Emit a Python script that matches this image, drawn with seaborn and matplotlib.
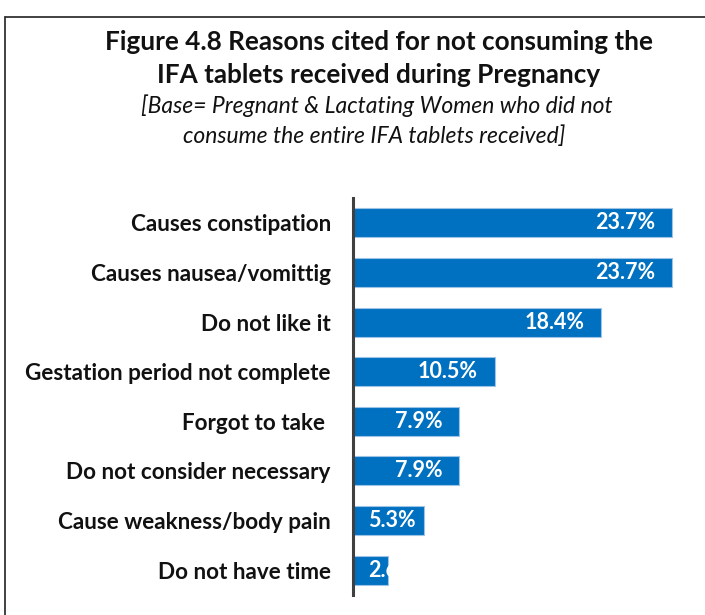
import matplotlib
matplotlib.use("Agg")
import matplotlib.pyplot as plt
import seaborn as sns
import pandas as pd

# data
reasons = [
    "Causes constipation",
    "Causes nausea/vomittig",
    "Do not like it",
    "Gestation period not complete",
    "Forgot to take ",
    "Do not consider necessary",
    "Cause weakness/body pain",
    "Do not have time",
]
percent = [23.7, 23.7, 18.4, 10.5, 7.9, 7.9, 5.3, 2.6]

title_lines = ["Figure 4.8 Reasons cited for not consuming the",
               "IFA tablets received during Pregnancy"]
subtitle_lines = ["[Base= Pregnant & Lactating Women who did not",
                  "consume the entire IFA tablets received]"]

sns.set_style("white")
plt.rcParams["font.family"] = ["Lato", "DejaVu Sans"]

df = pd.DataFrame({"reason": reasons, "pct": percent})

fig = plt.figure(figsize=(7.05, 6.15), dpi=100)
ax = fig.add_axes([353 / 705, 1 - 595 / 615, 337 / 705, 397 / 615])

sns.barplot(data=df, y="reason", x="pct", orient="h", color="#0070C0",
            saturation=1, width=0.585, edgecolor="#9DC3E6", linewidth=0.8, ax=ax)

ax.set_xlim(0, 25)
ax.set_ylim(7.5, -0.5)
ax.set_xlabel("")
ax.set_ylabel("")
ax.set_xticks([])
for s in ["top", "right", "bottom"]:
    ax.spines[s].set_visible(False)
ax.spines["left"].set_color("#404040")
ax.spines["left"].set_linewidth(2.2)
ax.tick_params(axis="y", length=0, pad=16)
for lab in ax.get_yticklabels():
    lab.set_fontweight("bold")
    lab.set_fontsize(16.2)
    lab.set_color("#111111")

# value labels inside the bars (short bars: label starts near the axis, clipped)
for bar, v in zip(ax.patches, percent):
    yc = bar.get_y() + bar.get_height() / 2
    if v > 6:
        t = ax.text(v - 1.25, yc, f"{v}%", ha="right", va="center",
                    color="white", fontweight="bold", fontsize=15.5)
    else:
        t = ax.text(1.1, yc, f"{v}%", ha="left", va="center",
                    color="white", fontweight="bold", fontsize=15.5)
        t.set_clip_path(bar)

# titles
fig.text(0.537, 1 - 42 / 615, title_lines[0], ha="center", va="center",
         fontsize=18.8, fontweight="bold", color="#111111")
fig.text(0.537, 1 - 75 / 615, title_lines[1], ha="center", va="center",
         fontsize=18.8, fontweight="bold", color="#111111")
fig.text(0.535, 1 - 106 / 615, subtitle_lines[0], ha="center", va="center",
         fontsize=16.5, style="italic", color="#111111")
fig.text(0.531, 1 - 136 / 615, subtitle_lines[1], ha="center", va="center",
         fontsize=16.5, style="italic", color="#111111")

# frame around the chart (top and left edges visible)
fig.add_artist(plt.Line2D([5 / 705, 1], [1 - 17 / 615, 1 - 17 / 615],
                          color="#333333", lw=1.3, transform=fig.transFigure))
fig.add_artist(plt.Line2D([5 / 705, 5 / 705], [0, 1 - 17 / 615],
                          color="#333333", lw=1.3, transform=fig.transFigure))

fig.savefig("out.png", dpi=100)
